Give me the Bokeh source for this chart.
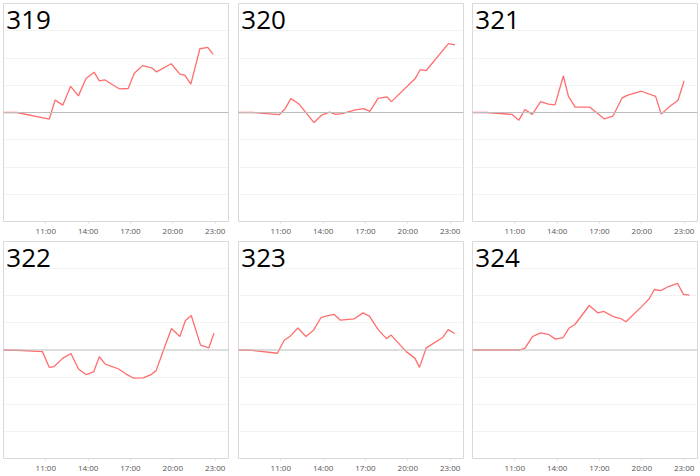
from bokeh.plotting import figure
from bokeh.layouts import gridplot
from bokeh.models import Range1d, FixedTicker, Span, Label
from bokeh.embed import file_html
from bokeh.resources import INLINE

panel_names = ["319", "320", "321", "322", "323", "324"]
tick_hours = [11, 14, 17, 20, 23]
tick_labels = ["11:00", "14:00", "17:00", "20:00", "23:00"]
grid_levels = [-3, -2, -1, 1, 2, 3]

t319 = [8.0, 8.94, 11.25, 11.66, 12.2, 12.76, 13.31, 13.85, 14.42, 14.79, 15.17, 16.2, 16.84, 17.27, 17.86, 18.5, 18.85, 19.89, 20.5, 20.85, 21.28, 21.92, 22.48, 22.86]
v319 = [0, 0, -0.24, 0.46, 0.27, 0.96, 0.61, 1.25, 1.48, 1.16, 1.2, 0.87, 0.88, 1.44, 1.72, 1.64, 1.49, 1.79, 1.41, 1.37, 1.04, 2.34, 2.39, 2.13]

t320 = [8.0, 9.0, 10.88, 11.31, 11.71, 12.29, 12.84, 13.35, 13.89, 14.46, 14.88, 15.35, 16.29, 16.88, 17.31, 17.89, 18.53, 18.84, 20.53, 20.88, 21.31, 22.88, 23.35]
v320 = [0, 0, -0.08, 0.14, 0.51, 0.31, -0.04, -0.37, -0.10, 0.01, -0.07, -0.04, 0.10, 0.14, 0.04, 0.52, 0.57, 0.40, 1.25, 1.57, 1.54, 2.53, 2.48]

t321 = [8.0, 8.98, 10.81, 11.29, 11.71, 12.24, 12.83, 13.38, 13.85, 14.44, 14.80, 15.28, 16.30, 16.87, 17.34, 17.96, 18.60, 18.96, 19.98, 20.98, 21.38, 22.0, 22.57, 23.0]
v321 = [0, 0, -0.07, -0.28, 0.11, -0.07, 0.40, 0.31, 0.28, 1.34, 0.59, 0.20, 0.20, -0.04, -0.23, -0.13, 0.53, 0.63, 0.78, 0.59, -0.06, 0.23, 0.45, 1.16]

t322 = [8.0, 8.94, 10.76, 11.24, 11.59, 12.21, 12.78, 13.32, 13.87, 14.39, 14.79, 15.22, 16.17, 16.76, 17.23, 17.9, 18.42, 18.82, 19.36, 19.91, 20.5, 20.9, 21.31, 21.97, 22.56, 22.92]
v322 = [0, -0.01, -0.06, -0.64, -0.61, -0.30, -0.13, -0.70, -0.91, -0.81, -0.25, -0.52, -0.70, -0.91, -1.04, -1.03, -0.92, -0.76, 0.02, 0.79, 0.50, 1.09, 1.27, 0.18, 0.08, 0.62]

t323 = [8.0, 8.94, 10.76, 11.24, 11.66, 12.21, 12.78, 13.32, 13.84, 14.27, 14.79, 15.22, 16.21, 16.83, 17.28, 17.9, 18.49, 18.82, 19.89, 20.5, 20.83, 21.31, 22.45, 22.87, 23.32]
v323 = [0, -0.01, -0.12, 0.36, 0.51, 0.81, 0.50, 0.73, 1.19, 1.26, 1.31, 1.10, 1.15, 1.37, 1.25, 0.75, 0.42, 0.55, -0.06, -0.30, -0.64, 0.08, 0.45, 0.75, 0.61]

t324 = [8.0, 8.99, 11.31, 11.71, 12.25, 12.82, 13.37, 13.89, 14.43, 14.83, 15.26, 16.28, 16.87, 17.32, 17.98, 18.5, 18.88, 19.99, 20.54, 20.89, 21.34, 21.89, 22.53, 22.95, 23.38]
v324 = [0, 0, 0, 0.06, 0.49, 0.63, 0.58, 0.40, 0.46, 0.80, 0.94, 1.64, 1.37, 1.42, 1.23, 1.16, 1.04, 1.60, 1.90, 2.23, 2.19, 2.34, 2.46, 2.05, 2.02]

series = [(t319, v319), (t320, v320), (t321, v321), (t322, v322), (t323, v323), (t324, v324)]

col_borders = [(3, 7), (3, 6), (3, 3)]
row_specs = [(3, 15, 238), (3, 13, 237)]
FRAME_W = 225


def make_panel(name, t, v, col, row):
    bl, br = col_borders[col]
    bt, bb, h = row_specs[row]
    p = figure(width=bl + FRAME_W + br, height=h,
               x_range=Range1d(8, 23.95), y_range=Range1d(-4, 4),
               y_axis_location=None, output_backend="svg", toolbar_location=None,
               min_border_left=bl, min_border_right=br,
               min_border_top=bt, min_border_bottom=bb)
    p.background_fill_color = "white"
    p.border_fill_color = "white"
    p.outline_line_color = "#d9d9d9"
    p.outline_line_width = 1
    p.xgrid.visible = False
    p.ygrid.ticker = FixedTicker(ticks=grid_levels)
    p.ygrid.grid_line_color = "#f2f2f2"
    ax = p.xaxis[0]
    ax.ticker = FixedTicker(ticks=tick_hours)
    ax.major_label_overrides = {h_: lab for h_, lab in zip(tick_hours, tick_labels)}
    ax.axis_line_color = None
    ax.major_tick_in = 0
    ax.major_tick_out = 2
    ax.major_tick_line_color = "#dddddd"
    ax.minor_tick_line_color = None
    ax.major_label_standoff = 1
    ax.major_label_text_font = "Open Sans"
    ax.major_label_text_font_size = "8px"
    ax.major_label_text_color = "#555555"
    p.add_layout(Span(location=0, dimension="width", line_color="#bdbdbd", line_width=1))
    p.line(t, v, line_color="#ff6e6e", line_width=1.3)
    p.add_layout(Label(x=8.2, y=3.38, text=name, text_font="Open Sans",
                       text_font_size="26px", text_color="black",
                       text_baseline="alphabetic"))
    return p


figs = []
for i, (name, (t, v)) in enumerate(zip(panel_names, series)):
    figs.append(make_panel(name, t, v, i % 3, i // 3))

grid = gridplot([figs[0:3], figs[3:6]], toolbar_location=None)

open("out.html", "w").write(file_html(grid, INLINE))
